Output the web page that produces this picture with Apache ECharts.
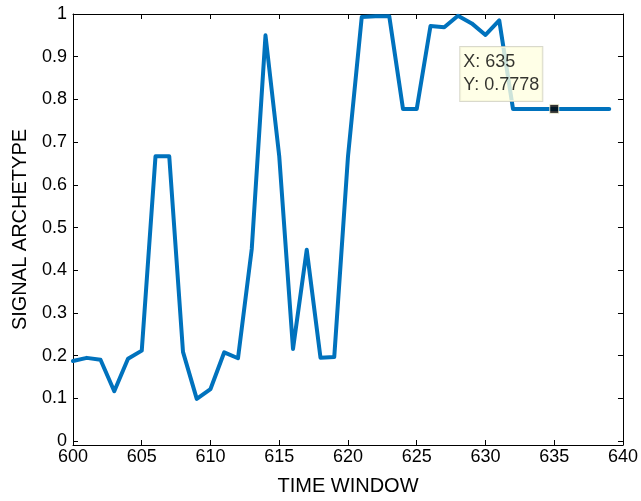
<!DOCTYPE html>
<html>
<head>
<meta charset="utf-8">
<script src="https://cdn.jsdelivr.net/npm/echarts@6/dist/echarts.min.js"></script>
<style>
  html, body { margin: 0; padding: 0; background: #fff; }
  #main { width: 641px; height: 501px; }
</style>
</head>
<body>
<div id="main"></div>
<script>
  // time window 600..639
  var timeWindow = [600, 601, 602, 603, 604, 605, 606, 607, 608, 609,
                    610, 611, 612, 613, 614, 615, 616, 617, 618, 619,
                    620, 621, 622, 623, 624, 625, 626, 627, 628, 629,
                    630, 631, 632, 633, 634, 635, 636, 637, 638, 639];
  var archetype = [0.1875, 0.195, 0.1905, 0.117, 0.193, 0.212, 0.6667, 0.6667, 0.209, 0.099,
                   0.122, 0.208, 0.194, 0.450, 0.950, 0.6667, 0.216, 0.448, 0.195, 0.197,
                   0.6667, 0.993, 0.995, 0.995, 0.7778, 0.7778, 0.972, 0.969, 0.996, 0.978,
                   0.951, 0.985, 0.7778, 0.7778, 0.7778, 0.7778, 0.7778, 0.7778, 0.7778, 0.7778];
  var yTicks = [0, 0.1, 0.2, 0.3, 0.4, 0.5, 0.6, 0.7, 0.8, 0.9, 1];
  var tipPoint = [635, 0.7778];

  var lineData = timeWindow.map(function (t, i) { return [t, archetype[i]]; });

  var chart = echarts.init(document.getElementById('main'));
  var font = 'Liberation Sans, Arial, Helvetica, sans-serif';
  var black = '#000';

  // y axis box goes a hair below 0, like the matlab figure
  var yMin = -0.009;

  var option = {
    animation: false,
    backgroundColor: '#fff',
    grid: { left: 73, right: 16, top: 14, bottom: 51 },
    xAxis: [
      {
        type: 'value', min: 600, max: 640, interval: 5,
        name: 'TIME WINDOW', nameLocation: 'middle', nameGap: 31,
        nameTextStyle: { fontFamily: font, fontSize: 20, color: black },
        axisLine: { show: true, onZero: false, lineStyle: { color: black, width: 1 } },
        axisTick: { show: true, inside: true, length: 5, lineStyle: { color: black } },
        axisLabel: { fontFamily: font, fontSize: 18, color: black, margin: 3 },
        splitLine: { show: false }
      },
      {
        type: 'value', min: 600, max: 640, interval: 5, position: 'top',
        axisLine: { show: true, onZero: false, lineStyle: { color: black, width: 1 } },
        axisTick: { show: true, inside: true, length: 5, lineStyle: { color: black } },
        axisLabel: { show: false },
        splitLine: { show: false }
      }
    ],
    yAxis: [
      {
        type: 'value', min: yMin, max: 1,
        name: 'SIGNAL ARCHETYPE', nameLocation: 'middle', nameGap: 43,
        nameTextStyle: { fontFamily: font, fontSize: 20, color: black },
        axisLine: { show: true, onZero: false, lineStyle: { color: black, width: 1 } },
        axisTick: { show: true, inside: true, length: 5, customValues: yTicks, lineStyle: { color: black } },
        axisLabel: { fontFamily: font, fontSize: 18, color: black, margin: 6, customValues: yTicks },
        splitLine: { show: false }
      },
      {
        type: 'value', min: yMin, max: 1, position: 'right',
        axisLine: { show: true, onZero: false, lineStyle: { color: black, width: 1 } },
        axisTick: { show: true, inside: true, length: 5, customValues: yTicks, lineStyle: { color: black } },
        axisLabel: { show: false },
        splitLine: { show: false }
      }
    ],
    series: [
      {
        type: 'line',
        data: lineData,
        showSymbol: false,
        lineStyle: { color: '#0072BD', width: 4, join: 'round', cap: 'round' },
        z: 2
      },
      {
        type: 'scatter',
        data: [tipPoint],
        symbol: 'rect',
        symbolSize: 9,
        itemStyle: { color: '#000', borderColor: '#ffffe1', borderWidth: 1 },
        label: {
          show: true,
          position: [-89, -57],
          align: 'left',
          verticalAlign: 'top',
          formatter: function (p) { return 'X: ' + p.value[0] + '\nY: ' + p.value[1]; },
          fontFamily: font, fontSize: 18, lineHeight: 23, color: '#000',
          backgroundColor: '#ffffe1',
          borderColor: '#cfcfbf', borderWidth: 1,
          padding: [4, 3, 4, 3]
        },
        z: 5
      }
    ]
  };
  chart.setOption(option);
</script>
</body>
</html>
